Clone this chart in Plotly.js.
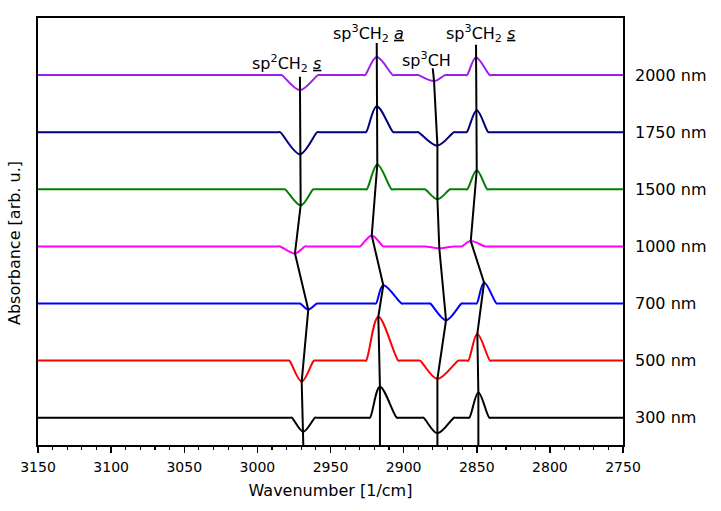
<!DOCTYPE html>
<html><head><meta charset="utf-8">
<script src="https://cdn.plot.ly/plotly-3.0.1.min.js"></script>
<style>html,body{margin:0;padding:0;background:#fff}</style>
</head><body><div id="chart" style="width:721px;height:511px"></div>
<script>
// Spectra, bottom to top
const labels = ['300 nm', '500 nm', '700 nm', '1000 nm', '1500 nm', '1750 nm', '2000 nm'];
const offsets = [0, 1, 2, 3, 4, 5, 6];
const colors = ['#000000', '#ff0000', '#0000ff', '#ff00ff', '#008000', '#000080', '#9b1fe8'];

// Bands in order: sp2CH2 s, sp3CH2 a, sp3CH, sp3CH2 s  (wavenumbers in 1/cm, amplitude in arb. u.)
const start300 = [2976.5, 2923.0, 2886.5, 2855.1];
const peak300  = [2968.6, 2916.2, 2876.9, 2848.9];
const end300   = [2960.5, 2904.7, 2865.5, 2841.4];
const amp300   = [-0.245, 0.543, -0.273, 0.443];

const start500 = [2978.2, 2925.7, 2888.8, 2855.8];
const peak500  = [2969.7, 2917.3, 2876.9, 2849.6];
const end500   = [2961.3, 2903.6, 2862.6, 2840.9];
const amp500   = [-0.368, 0.770, -0.320, 0.468];

const start700 = [2970.9, 2918.9, 2881.9, 2850.0];
const peak700  = [2965.2, 2913.9, 2871.0, 2845.0];
const end700   = [2959.2, 2901.3, 2860.3, 2836.4];
const amp700   = [-0.105, 0.320, -0.292, 0.368];

const start1000 = [2984.5, 2929.8, 2885.0, 2860.3];
const peak1000  = [2974.3, 2921.8, 2875.6, 2854.1];
const end1000   = [2967.4, 2913.9, 2866.0, 2844.4];
const amp1000   = [-0.123, 0.193, -0.035, 0.093];

const start1500 = [2981.1, 2925.2, 2885.4, 2856.5];
const peak1500  = [2970.4, 2918.0, 2876.9, 2850.0];
const end1500   = [2961.8, 2908.2, 2868.3, 2842.8];
const amp1500   = [-0.280, 0.433, -0.175, 0.333];

const start1750 = [2984.5, 2925.7, 2890.0, 2856.9];
const peak1750  = [2970.9, 2918.4, 2876.9, 2850.0];
const end1750   = [2959.0, 2907.1, 2865.6, 2842.1];
const amp1750   = [-0.385, 0.455, -0.235, 0.385];

const start2000 = [2983.4, 2926.4, 2890.2, 2856.7];
const peak2000  = [2970.9, 2918.4, 2879.2, 2850.5];
const end2000   = [2958.5, 2907.3, 2871.7, 2841.0];
const amp2000   = [-0.263, 0.315, -0.105, 0.310];

const bandStarts = [start300, start500, start700, start1000, start1500, start1750, start2000];
const bandPeaks  = [peak300, peak500, peak700, peak1000, peak1500, peak1750, peak2000];
const bandEnds   = [end300, end500, end700, end1000, end1500, end1750, end2000];
const bandAmps   = [amp300, amp500, amp700, amp1000, amp1500, amp1750, amp2000];

// Guide lines: top end of each band tracking line
const guideTopWn = [2970.9, 2918.4, 2880.1, 2850.5];
const guideTopY  = [5.97, 6.56, 6.12, 6.53];

const xRange = [3150, 2750];
const yRange = [-0.478, 7.0];
const pad = 1.2;

const traces = [];
for (let s = 0; s < labels.length; s++) {
  const x = [xRange[0]], y = [offsets[s]];
  for (let b = 0; b < 4; b++) {
    x.push(bandStarts[s][b] + pad, bandStarts[s][b], bandPeaks[s][b], bandEnds[s][b], bandEnds[s][b] - pad);
    y.push(offsets[s], offsets[s], offsets[s] + bandAmps[s][b], offsets[s], offsets[s]);
  }
  x.push(xRange[1]); y.push(offsets[s]);
  traces.push({x, y, type: 'scatter', mode: 'lines', name: labels[s],
    line: {color: colors[s], width: 2, shape: 'spline', smoothing: 1}, hoverinfo: 'skip'});
}
for (let b = 0; b < 4; b++) {
  const x = [guideTopWn[b]], y = [guideTopY[b]];
  for (let s = labels.length - 1; s >= 0; s--) {
    x.push(bandPeaks[s][b]); y.push(offsets[s] + bandAmps[s][b]);
  }
  x.push(bandPeaks[0][b]); y.push(yRange[0]);
  traces.push({x, y, type: 'scatter', mode: 'lines', line: {color: '#000', width: 2}, hoverinfo: 'skip'});
}

const font = 'DejaVu Sans';
const annotations = labels.map((t, i) => ({
  text: t, xref: 'paper', yref: 'y', x: 1.017, y: offsets[i], xanchor: 'left', yanchor: 'middle',
  showarrow: false, font: {family: font, size: 16, color: '#000'}
}));
const bandLabels = ['sp<sup>2</sup>CH<sub>2</sub> <u><i>s</i></u>', 'sp<sup>3</sup>CH<sub>2</sub> <u><i>a</i></u>',
                    'sp<sup>3</sup>CH', 'sp<sup>3</sup>CH<sub>2</sub> <u><i>s</i></u>'];
const bandLabelWn = [2979.9, 2924.2, 2884.7, 2847.6];
const bandLabelY = [6.20, 6.72, 6.27, 6.72];
bandLabels.forEach((t, i) => annotations.push({
  text: t, xref: 'x', yref: 'y', x: bandLabelWn[i], y: bandLabelY[i], xanchor: 'center', yanchor: 'middle',
  showarrow: false, font: {family: font, size: 16, color: '#000'}
}));
annotations.push({
  text: 'Absorbance [arb. u.]', xref: 'paper', yref: 'paper', x: -0.041, y: 0.473, textangle: -90,
  xanchor: 'center', yanchor: 'middle', showarrow: false, font: {family: font, size: 16, color: '#000'}
});

const layout = {
  width: 721, height: 511, paper_bgcolor: '#fff', plot_bgcolor: '#fff', showlegend: false,
  margin: {l: 38, r: 98, t: 18, b: 66},
  xaxis: {range: xRange, dtick: 50, tick0: 2750, ticks: 'outside', ticklen: 6, tickwidth: 1.5, tickcolor: '#000',
    minor: {dtick: 10, ticks: 'outside', ticklen: 3.5, tickwidth: 1.2, tickcolor: '#000'},
    showline: true, linewidth: 1.8, linecolor: '#000', mirror: true, showgrid: false, zeroline: false,
    tickfont: {family: font, size: 14, color: '#000'}, ticklabelstandoff: 2,
    title: {text: 'Wavenumber [1/cm]', font: {family: font, size: 16, color: '#000'}, standoff: 11}},
  yaxis: {range: yRange, showticklabels: false, ticks: '', showline: true, linewidth: 1.8, linecolor: '#000',
    mirror: true, showgrid: false, zeroline: false},
  annotations
};
Plotly.newPlot('chart', traces, layout, {staticPlot: true, displayModeBar: false});
</script></body></html>
